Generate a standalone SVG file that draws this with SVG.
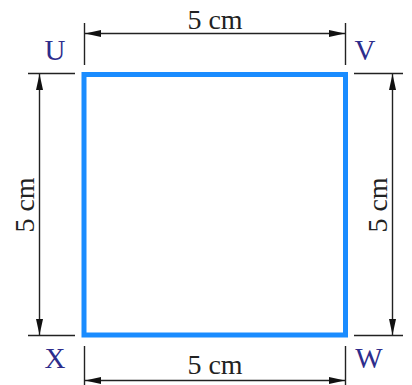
<svg xmlns="http://www.w3.org/2000/svg" width="412" height="385" viewBox="0 0 412 385">
<defs>
<marker id="arr" viewBox="0 0 16 7" refX="16" refY="3.5" markerWidth="16" markerHeight="7" markerUnits="userSpaceOnUse" orient="auto-start-reverse">
<path d="M0,0 L16,3.5 L0,7 Z" fill="#111"/>
</marker>
<style>
.ext{stroke:#222;stroke-width:1.4;fill:none}
.dim{stroke:#222;stroke-width:1.4;fill:none;marker-start:url(#arr);marker-end:url(#arr)}
.dimtxt{font-family:"Liberation Serif",serif;font-size:28px;fill:#222;text-anchor:middle}
.lbl{font-family:"Liberation Serif",serif;font-size:29px;fill:#2d2d8c;text-anchor:middle}
</style>
</defs>
<rect width="412" height="385" fill="#fff"/>
<g id="square">
<rect x="84" y="74.5" width="261.5" height="260.5" fill="none" stroke="#1a8cff" stroke-width="5"/>
</g>
<g id="connectors">
<line class="ext" x1="84.5" y1="23" x2="84.5" y2="65"/>
<line class="ext" x1="345.5" y1="23" x2="345.5" y2="65"/>
<line class="dim" x1="85" y1="33.5" x2="345" y2="33.5"/>
<line class="ext" x1="84.5" y1="346" x2="84.5" y2="385"/>
<line class="ext" x1="345.5" y1="346" x2="345.5" y2="385"/>
<line class="dim" x1="85" y1="380.5" x2="345" y2="380.5"/>
<line class="ext" x1="28" y1="73.5" x2="75" y2="73.5"/>
<line class="ext" x1="28" y1="335.5" x2="75" y2="335.5"/>
<line class="dim" x1="39.5" y1="74" x2="39.5" y2="335"/>
<line class="ext" x1="354" y1="73.5" x2="403" y2="73.5"/>
<line class="ext" x1="354" y1="335.5" x2="403" y2="335.5"/>
<line class="dim" x1="392.5" y1="74" x2="392.5" y2="335"/>
</g>
<g id="dim-top"><text class="dimtxt" x="215" y="29">5 cm</text></g>
<g id="dim-bottom"><text class="dimtxt" x="215" y="374">5 cm</text></g>
<g id="dim-left"><text class="dimtxt" transform="translate(34,205) rotate(-90)">5 cm</text></g>
<g id="dim-right"><text class="dimtxt" transform="translate(387,205) rotate(-90)">5 cm</text></g>
<g id="U"><text class="lbl" x="55" y="60">U</text></g>
<g id="V"><text class="lbl" x="365" y="60">V</text></g>
<g id="X"><text class="lbl" x="55" y="368">X</text></g>
<g id="W"><text class="lbl" x="369" y="368">W</text></g>
</svg>
